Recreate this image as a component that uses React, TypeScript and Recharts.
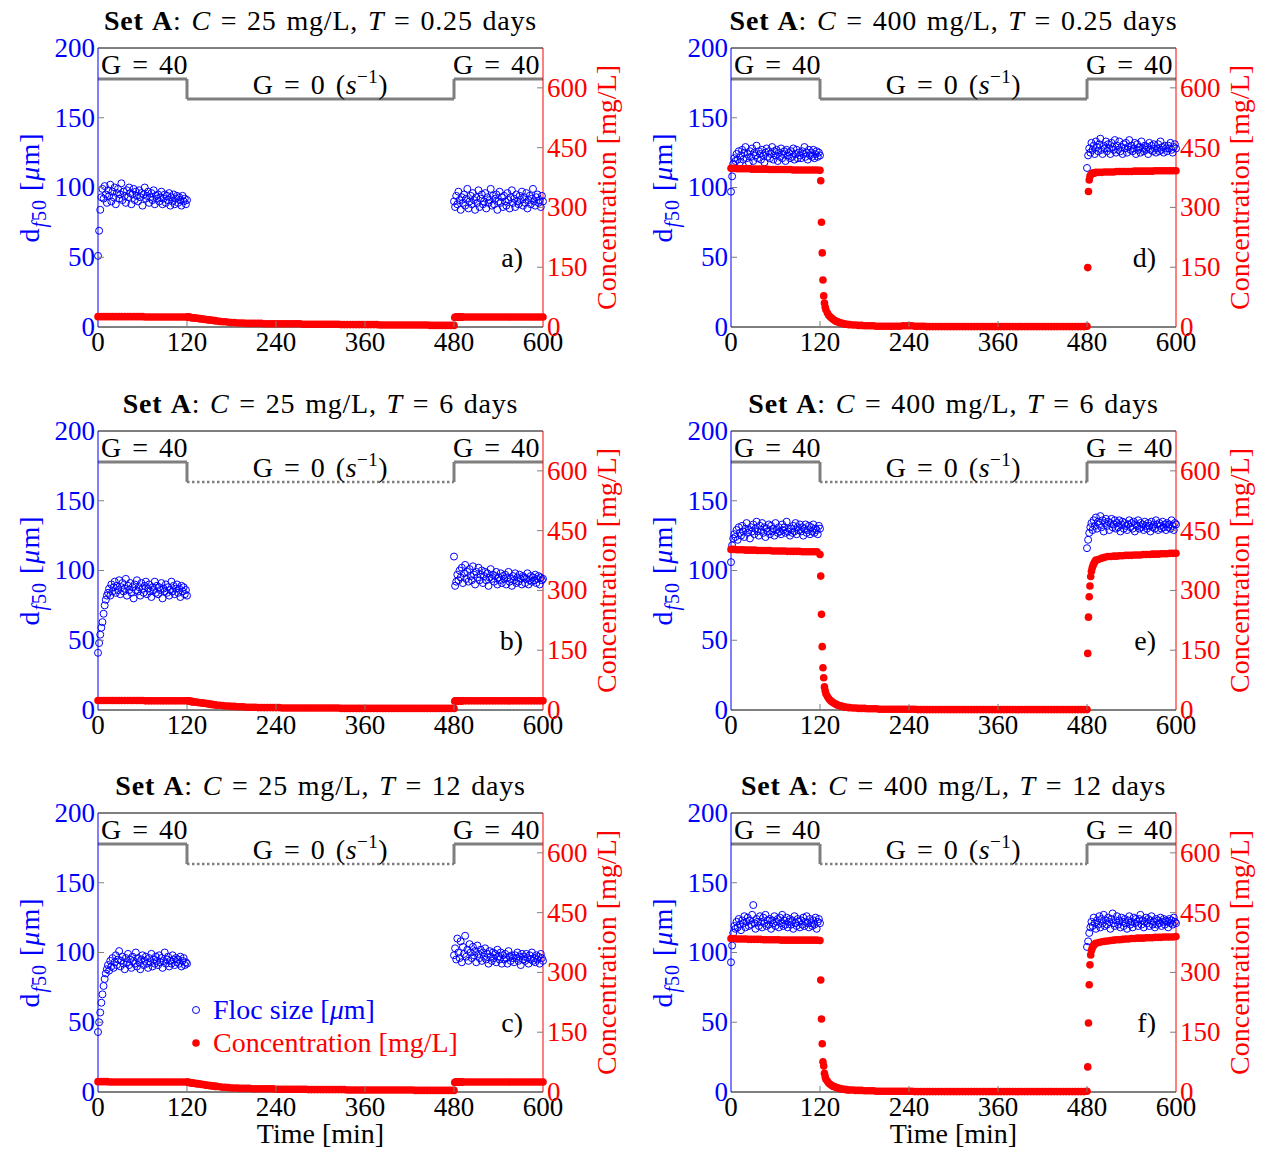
import React from "react";
import { ComposedChart, Scatter, XAxis, YAxis, ReferenceLine } from "recharts";

const FONT = "'Liberation Serif', 'Times New Roman', serif";
const FS = 28;
const FS_TICK = 27;
const BLUE = "#0000ff";
const RED = "#ff0000";
const GRAY = "#7f7f7f";

// axis ticks
const TIME_TICKS = [0, 120, 240, 360, 480, 600];
const SIZE_TICKS = [0, 50, 100, 150, 200];
const CONC_TICKS = [0, 150, 300, 450, 600];

// test conditions: columns = concentration, rows = aging time
const SET_CONC = [25, 400];
const SET_DAYS = ["0.25", "6", "12"];
const LETTERS = [["a", "b", "c"], ["d", "e", "f"]];

// shear schedule, G in s^-1
const G_PHASES = [
  { from: 0, to: 120, g: 40 },
  { from: 120, to: 480, g: 0 },
  { from: 480, to: 600, g: 40 },
];

const seq = (a: number, b: number, step: number) => {
  const out: number[] = [];
  for (let t = a; t <= b + 1e-9; t += step) out.push(t);
  return out;
};

// sampling times (min)
const FLOC_T1 = seq(0, 120, 1.5);
const FLOC_T2 = seq(480, 600, 1.5);
const CONC_T = [
  ...seq(0, 120, 4),
  ...seq(121, 128, 1),
  ...seq(130, 160, 2),
  ...seq(164, 476, 4),
  480,
  ...seq(481, 492, 1),
  ...seq(496, 600, 4),
];

// floc size d_f50 (um)
const FLOC_A1 = [
  51, 69, 84, 93, 99, 92, 101, 95, 89,
  98, 94, 102, 90, 97, 93, 100, 88, 96,
  99, 92, 95, 103, 91, 97, 94, 89, 98,
  93, 100, 96, 88, 95, 99, 91, 97, 94,
  90, 98, 93, 96, 87, 95, 100, 92, 94,
  97, 89, 93, 96, 91, 98, 88, 94, 92,
  95, 90, 93, 97, 88, 92, 95, 89, 94,
  91, 96, 87, 93, 90, 95, 88, 92, 94,
  89, 93, 91, 87, 94, 90, 92, 88, 91,
];
const FLOC_A2 = [
  90, 86, 94, 88, 97, 91, 84, 93, 89,
  95, 87, 92, 99, 85, 90, 94, 88, 96,
  91, 84, 93, 89, 98, 86, 92, 95, 88,
  90, 96, 85, 93, 89, 91, 99, 87, 94,
  88, 92, 95, 84, 90, 97, 89, 93, 86,
  94, 90, 87, 96, 91, 85, 93, 98, 89,
  92, 86, 95, 90, 88, 94, 91, 97, 87,
  93, 89, 96, 85, 91, 94, 88, 92, 99,
  90, 87, 93, 95, 89, 91, 86, 94, 90,
];
const FLOC_B1 = [
  41, 48, 54, 59, 63, 69, 75, 79, 82,
  84, 87, 82, 90, 85, 88, 92, 84, 89,
  86, 93, 83, 88, 91, 85, 87, 94, 82,
  89, 86, 91, 84, 88, 80, 90, 86, 93,
  85, 88, 82, 91, 87, 84, 89, 92, 83,
  87, 90, 85, 81, 88, 86, 92, 84, 89,
  83, 88, 86, 91, 80, 87, 85, 90, 84,
  88, 82, 86, 92, 85, 89, 83, 87, 90,
  84, 87, 81, 89, 85, 88, 83, 86, 82,
];
const FLOC_B2 = [
  110, 89, 92, 97, 93, 100, 95, 102, 91,
  98, 104, 94, 99, 92, 101, 96, 93, 103,
  97, 90, 99, 95, 102, 93, 97, 100, 91,
  96, 99, 93, 98, 89, 95, 101, 94, 97,
  92, 96, 99, 90, 95, 93, 98, 91, 96,
  94, 97, 90, 95, 99, 92, 94, 89, 96,
  93, 98, 91, 95, 92, 97, 94, 90, 96,
  95, 91, 94, 98, 90, 93, 96, 92, 95,
  93, 97, 91, 94, 96, 90, 95, 93, 94,
];
const FLOC_C1 = [
  43, 50, 57, 64, 70, 76, 81, 85, 88,
  91, 87, 94, 90, 96, 89, 93, 98, 91,
  95, 101, 90, 94, 97, 92, 88, 96, 93,
  99, 91, 95, 89, 97, 94, 92, 100, 90,
  96, 93, 88, 95, 98, 91, 94, 97, 92,
  89, 96, 93, 99, 90, 95, 92, 97, 94,
  91, 98, 93, 96, 89, 94, 100, 92, 95,
  97, 90, 94, 92, 98, 95, 91, 96, 93,
  95, 92, 97, 90, 94, 96, 91, 93, 92,
];
const FLOC_C2 = [
  98, 103, 95, 110, 100, 96, 108, 93, 104,
  99, 112, 97, 102, 94, 106, 100, 96, 104,
  98, 101, 93, 105, 99, 96, 102, 94, 100,
  97, 103, 95, 99, 92, 101, 97, 94, 100,
  96, 99, 93, 102, 97, 95, 100, 92, 98,
  95, 99, 96, 92, 101, 97, 94, 98, 96,
  93, 98, 96, 100, 94, 97, 91, 99, 95,
  97, 94, 99, 96, 92, 98, 95, 100, 94,
  96, 93, 98, 95, 97, 92, 99, 96, 94,
];
const FLOC_D1 = [
  97, 108, 117, 121, 119, 124, 120, 126, 118,
  123, 127, 120, 125, 129, 121, 124, 118, 126,
  122, 128, 119, 125, 123, 130, 121, 126, 124,
  120, 127, 123, 118, 125, 128, 122, 126, 121,
  124, 129, 120, 126, 123, 127, 119, 125, 122,
  128, 121, 124, 126, 119, 127, 123, 125, 121,
  126, 122, 128, 120, 124, 127, 121, 125, 123,
  121, 126, 124, 129, 122, 125, 120, 127, 123,
  125, 122, 127, 121, 124, 126, 122, 125, 123,
];
const FLOC_D2 = [
  114, 123, 128, 125, 132, 127, 130, 124, 133,
  129, 126, 131, 135, 127, 124, 130, 128, 133,
  126, 131, 128, 124, 132, 129, 127, 134, 125,
  130, 127, 133, 126, 129, 124, 131, 128, 132,
  125, 129, 134, 127, 130, 126, 128, 132, 124,
  131, 127, 129, 125, 133, 128, 126, 130, 127,
  129, 124, 132, 127, 130, 126, 131, 128, 125,
  128, 131, 126, 133, 127, 129, 125, 130, 128,
  126, 130, 128, 132, 127, 125, 129, 131, 128,
];
const FLOC_E1 = [
  106, 118, 123, 126, 124, 129, 122, 131, 127,
  125, 132, 128, 124, 130, 134, 127, 129, 123,
  131, 128, 133, 126, 130, 135, 128, 125, 132,
  129, 134, 127, 131, 124, 130, 128, 133, 126,
  132, 128, 130, 125, 134, 129, 127, 131, 128,
  126, 133, 129, 131, 127, 135, 128, 130, 125,
  130, 127, 132, 128, 134, 126, 131, 129, 133,
  128, 131, 125, 130, 133, 127, 129, 132, 126,
  131, 128, 133, 127, 130, 129, 126, 132, 130,
];
const FLOC_E2 = [
  116, 122, 127, 131, 134, 129, 136, 132, 138,
  130, 135, 133, 139, 131, 136, 128, 134, 137,
  132, 135, 129, 134, 137, 131, 133, 136, 130,
  134, 131, 136, 128, 133, 135, 130, 134, 132,
  129, 133, 136, 131, 134, 130, 135, 128, 133,
  132, 136, 130, 134, 131, 133, 129, 135, 132,
  130, 134, 132, 128, 135, 131, 133, 130, 136,
  133, 129, 134, 132, 130, 135, 131, 133, 129,
  134, 131, 133, 130, 136, 132, 129, 134, 133,
];
const FLOC_F1 = [
  93, 105, 114, 119, 117, 122, 118, 124, 120,
  116, 123, 121, 126, 118, 122, 125, 119, 123,
  120, 127, 134, 121, 117, 124, 122, 119, 126,
  122, 118, 125, 121, 127, 119, 123, 120, 124,
  117, 123, 121, 126, 119, 122, 124, 118, 125,
  121, 127, 119, 123, 120, 125, 118, 122, 124,
  120, 123, 117, 126, 121, 119, 124, 122, 118,
  123, 120, 125, 119, 122, 126, 121, 118, 124,
  121, 119, 123, 120, 125, 117, 122, 124, 121,
];
const FLOC_F2 = [
  104, 108, 114, 118, 122, 119, 125, 121, 117,
  123, 120, 126, 118, 124, 121, 127, 119, 123,
  120, 125, 122, 117, 124, 128, 121, 119, 123,
  126, 120, 123, 118, 125, 122, 119, 124, 121,
  117, 123, 126, 120, 122, 118, 125, 121, 124,
  122, 119, 124, 127, 120, 123, 118, 122, 125,
  121, 124, 119, 123, 126, 120, 122, 118, 124,
  120, 123, 121, 125, 119, 122, 124, 120, 123,
  122, 118, 124, 121, 123, 120, 125, 122, 121,
];

// concentration (mg/L) on CONC_T
const CONC_A = [
  26, 26, 26, 26, 26, 26, 26, 26, 26, 26, 26, 26, 26, 26, 26, 26, 25, 25, 25, 25, 25, 25, 25, 25, 25, 25, 25, 25, 25, 25, 25,
  25, 25, 25, 24, 24, 24, 23, 23,
  23, 22, 22, 21, 21, 20, 20, 19, 19, 18, 18, 17, 17, 16, 16, 15,
  14, 13, 13, 12, 11, 11, 10, 10, 10, 9,
  9, 9, 9, 9, 9, 8, 8, 8, 8, 8,
  8, 8, 8, 8, 8, 8, 8, 8, 7, 7,
  7, 7, 7, 7, 7, 7, 7, 7, 7, 7,
  7, 6, 6, 6, 6, 6, 6, 6, 6, 6,
  6, 6, 6, 6, 5, 5, 5, 5, 5, 5,
  5, 5, 5, 5, 5, 5, 5, 5, 5, 5,
  5, 4, 4, 4, 4, 4, 4, 4, 4,
  4,
  24, 25, 25, 25, 25, 25, 25, 25, 25, 25, 25, 25,
  25, 25, 25, 25, 25, 25, 25, 25, 25, 25, 25, 25, 25, 25, 25, 25, 25, 25, 25, 25, 25, 25, 25, 25, 25, 25, 25,
];
const CONC_B = [
  24, 24, 24, 24, 24, 24, 24, 24, 24, 24, 24, 24, 24, 24, 24, 24, 23, 23, 23, 23, 23, 23, 23, 23, 23, 23, 23, 23, 23, 23, 23,
  23, 23, 22, 22, 22, 21, 21, 21,
  20, 20, 19, 19, 18, 18, 17, 17, 16, 16, 15, 14, 14, 13, 13, 12,
  12, 11, 10, 10, 9, 9, 8, 8, 8, 7,
  7, 7, 7, 6, 6, 6, 6, 6, 6, 6,
  6, 5, 5, 5, 5, 5, 5, 5, 5, 5,
  5, 5, 5, 5, 5, 5, 5, 5, 5, 5,
  5, 4, 4, 4, 4, 4, 4, 4, 4, 4,
  4, 4, 4, 4, 4, 4, 4, 4, 4, 4,
  4, 4, 4, 4, 4, 4, 4, 4, 4, 4,
  4, 4, 4, 4, 4, 4, 4, 4, 4,
  4,
  22, 23, 23, 23, 23, 23, 23, 23, 23, 23, 23, 23,
  23, 23, 23, 23, 23, 23, 23, 23, 23, 23, 23, 23, 23, 23, 23, 23, 23, 23, 23, 23, 23, 23, 23, 23, 23, 23, 23,
];
const CONC_C = [
  26, 26, 26, 26, 25, 25, 25, 25, 25, 25, 25, 25, 25, 25, 25, 25, 25, 25, 25, 25, 25, 25, 25, 25, 25, 25, 25, 25, 25, 25, 25,
  25, 24, 24, 24, 23, 23, 23, 22,
  22, 21, 21, 20, 20, 19, 19, 18, 17, 17, 16, 16, 15, 15, 14, 14,
  13, 12, 12, 11, 10, 10, 10, 9, 9, 9,
  9, 8, 8, 8, 8, 8, 8, 8, 8, 7,
  7, 7, 7, 7, 7, 7, 7, 7, 7, 7,
  6, 6, 6, 6, 6, 6, 6, 6, 6, 6,
  6, 6, 6, 5, 5, 5, 5, 5, 5, 5,
  5, 5, 5, 5, 5, 5, 5, 5, 5, 5,
  5, 5, 5, 5, 5, 5, 4, 4, 4, 4,
  4, 4, 4, 4, 4, 4, 4, 4, 4,
  4,
  24, 25, 25, 25, 25, 25, 25, 25, 25, 25, 25, 25,
  25, 25, 25, 25, 25, 25, 25, 25, 25, 25, 25, 25, 25, 25, 25, 25, 25, 25, 25, 25, 25, 25, 25, 25, 25, 25, 25,
];
const CONC_D = [
  398, 398, 397, 397, 397, 397, 397, 396, 396, 396, 396, 396, 396, 395, 395, 395, 395, 395, 395, 395, 395, 394, 394, 394, 394, 394, 394, 394, 394, 394, 393,
  367, 263, 186, 118, 78, 60, 50, 43,
  35, 29, 25, 22, 19, 16, 14, 13, 11, 10, 9, 8, 7, 7, 6, 6,
  5, 5, 4, 4, 3, 3, 3, 3, 2, 2,
  2, 2, 2, 2, 2, 2, 2, 3, 3, 3,
  3, 2, 2, 2, 2, 1, 1, 1, 1, 1,
  1, 1, 1, 1, 1, 1, 1, 1, 1, 1,
  1, 1, 1, 1, 1, 1, 1, 1, 1, 1,
  1, 1, 1, 1, 1, 1, 1, 1, 1, 1,
  1, 1, 1, 1, 1, 1, 1, 1, 1, 1,
  1, 1, 1, 1, 1, 1, 1, 1, 1,
  2,
  149, 340, 369, 378, 382, 384, 385, 386, 386, 387, 387, 388,
  388, 388, 389, 389, 389, 389, 390, 390, 390, 390, 390, 390, 391, 391, 391, 391, 391, 391, 391, 392, 392, 392, 392, 392, 392, 392, 392,
];
const CONC_E = [
  403, 403, 402, 402, 402, 401, 401, 401, 401, 400, 400, 400, 400, 400, 399, 399, 399, 399, 399, 398, 398, 398, 398, 398, 397, 397, 397, 397, 397, 397, 390,
  336, 240, 159, 106, 81, 58, 48, 41,
  34, 28, 24, 21, 18, 16, 14, 12, 11, 10, 9, 8, 7, 7, 6, 6,
  5, 5, 4, 4, 4, 3, 3, 3, 3, 2,
  2, 2, 2, 2, 2, 2, 2, 2, 2, 2,
  2, 2, 1, 1, 1, 1, 1, 1, 1, 1,
  1, 1, 1, 1, 1, 1, 1, 1, 1, 1,
  1, 1, 1, 1, 1, 1, 1, 1, 1, 1,
  1, 1, 1, 1, 1, 1, 1, 1, 1, 1,
  1, 1, 1, 1, 1, 1, 1, 1, 1, 1,
  1, 1, 1, 1, 1, 1, 1, 1, 1,
  1,
  142, 233, 284, 311, 335, 348, 356, 362, 366, 370, 373, 376,
  378, 381, 383, 385, 385, 386, 386, 387, 387, 388, 388, 388, 389, 389, 389, 390, 390, 390, 391, 391, 391, 392, 392, 392, 393, 393, 393,
];
const CONC_F = [
  385, 385, 384, 384, 384, 384, 383, 383, 383, 383, 383, 382, 382, 382, 382, 382, 382, 381, 381, 381, 381, 381, 381, 381, 381, 381, 381, 381, 381, 381, 380,
  281, 183, 121, 76, 65, 47, 38, 32,
  27, 22, 19, 16, 14, 13, 11, 10, 9, 8, 7, 7, 6, 6, 5, 5,
  5, 4, 4, 4, 3, 3, 3, 3, 2, 2,
  2, 2, 2, 2, 2, 2, 2, 2, 2, 2,
  2, 1, 1, 1, 1, 1, 1, 1, 1, 1,
  1, 1, 1, 1, 1, 1, 1, 1, 1, 1,
  1, 1, 1, 1, 1, 1, 1, 1, 1, 1,
  1, 1, 1, 1, 1, 1, 1, 1, 1, 1,
  1, 1, 1, 1, 1, 1, 1, 1, 1, 1,
  1, 1, 1, 1, 1, 1, 1, 1, 1,
  2,
  63, 173, 269, 319, 344, 355, 361, 365, 368, 370, 372, 373,
  375, 377, 378, 379, 380, 381, 382, 382, 383, 384, 384, 385, 385, 386, 386, 386, 387, 387, 387, 388, 388, 388, 389, 389, 389, 389, 390,
];

const PANELS = [
  { col: 0, row: 0, floc1: FLOC_A1, floc2: FLOC_A2, conc: CONC_A },
  { col: 0, row: 1, floc1: FLOC_B1, floc2: FLOC_B2, conc: CONC_B },
  { col: 0, row: 2, floc1: FLOC_C1, floc2: FLOC_C2, conc: CONC_C },
  { col: 1, row: 0, floc1: FLOC_D1, floc2: FLOC_D2, conc: CONC_D },
  { col: 1, row: 1, floc1: FLOC_E1, floc2: FLOC_E2, conc: CONC_E },
  { col: 1, row: 2, floc1: FLOC_F1, floc2: FLOC_F2, conc: CONC_F },
];

// layout (page px)
const PLOT_LEFT = [98, 731];
const PLOT_TOP = [48, 431, 813];
const PLOT_W = 445;
const PLOT_H = 279;
const AXIS_L = 90;
const AXIS_R = 85;
const MARGIN_TOP = 40;
const CHART_W = AXIS_L + PLOT_W + AXIS_R;
const CHART_H = MARGIN_TOP + PLOT_H + 40;
const G_HIGH = 177.8; // drawn level of the schedule line (left axis units)
const G_LOW = 163.4;

const toPts = (ts: number[], vs: number[]) => vs.map((v, i) => ({ t: ts[i], v }));

const txt = { fontFamily: FONT, fontSize: FS };
const tickTxt = { fontFamily: FONT, fontSize: FS_TICK };

const TimeTick = (props: any) => {
  const { x, y, payload } = props;
  const v = payload.value;
  return (
    <g>
      {v > 0 && v < 600 && <line x1={x} x2={x} y1={y} y2={y - 6} stroke={GRAY} />}
      <text x={x} y={y + 24} textAnchor="middle" fill="#000" {...tickTxt}>{v}</text>
    </g>
  );
};

const TopTick = (props: any) => {
  const { x, y, payload } = props;
  const v = payload.value;
  if (!(v > 0 && v < 600)) return <g />;
  return <line x1={x} x2={x} y1={y} y2={y + 6} stroke={GRAY} />;
};

const SizeTick = (props: any) => {
  const { x, y, payload } = props;
  const v = payload.value;
  return (
    <g>
      {v > 0 && v < 200 && <line x1={x} x2={x + 6} y1={y} y2={y} stroke={GRAY} />}
      <text x={x - 3} y={y} dy="0.33em" textAnchor="end" fill={BLUE} {...tickTxt}>{v}</text>
    </g>
  );
};

const ConcTick = (props: any) => {
  const { x, y, payload } = props;
  const v = payload.value;
  return (
    <g>
      {v > 0 && <line x1={x} x2={x - 6} y1={y} y2={y} stroke={GRAY} />}
      <text x={x + 4} y={y} dy="0.33em" textAnchor="start" fill={RED} {...tickTxt}>{v}</text>
    </g>
  );
};

const GLabel = (props: any) => {
  const { viewBox, anchor, dx = 0, children } = props;
  if (!viewBox) return null;
  const x = anchor === "middle" ? viewBox.x + viewBox.width / 2 : viewBox.x + dx;
  return (
    <text x={x} y={viewBox.y - 5} textAnchor={anchor} fill="#000" wordSpacing={3} letterSpacing={0.5} {...txt}>
      {children}
    </text>
  );
};

const openCircle = (p: any) => (
  <circle cx={p.cx} cy={p.cy} r={3.5} fill="none" stroke={BLUE} strokeWidth={1} />
);
const filledDot = (p: any) => <circle cx={p.cx} cy={p.cy} r={3.8} fill={RED} />;

function Panel({ p }: { p: (typeof PANELS)[number] }) {
  const flocData = [...toPts(FLOC_T1, p.floc1), ...toPts(FLOC_T2, p.floc2)];
  const concData = toPts(CONC_T, p.conc);
  const dotted = p.row > 0;
  const level = (g: number) => (g > 0 ? G_HIGH : G_LOW);
  return (
    <div
      style={{
        position: "absolute",
        left: PLOT_LEFT[p.col] - AXIS_L - 8,
        top: PLOT_TOP[p.row] - MARGIN_TOP - 8,
      }}
    >
      <ComposedChart width={CHART_W} height={CHART_H} margin={{ top: MARGIN_TOP, right: 0, bottom: 0, left: 0 }}>
        <XAxis
          xAxisId="t"
          dataKey="t"
          type="number"
          domain={[0, 600]}
          ticks={TIME_TICKS}
          interval={0}
          height={40}
          tickSize={0}
          tickMargin={0}
          tickLine={false}
          axisLine={{ stroke: "#000" }}
          tick={(tp: any) => <TimeTick {...tp} />}
        />
        <XAxis
          xAxisId="top"
          dataKey="t"
          orientation="top"
          mirror
          type="number"
          domain={[0, 600]}
          ticks={TIME_TICKS}
          interval={0}
          tickSize={0}
          tickMargin={0}
          tickLine={false}
          axisLine={{ stroke: "#000" }}
          tick={(tp: any) => <TopTick {...tp} />}
        />
        <YAxis
          yAxisId="d"
          orientation="left"
          type="number"
          width={AXIS_L}
          domain={[0, 200]}
          ticks={SIZE_TICKS}
          interval={0}
          tickSize={0}
          tickMargin={0}
          tickLine={false}
          axisLine={{ stroke: BLUE }}
          tick={(tp: any) => <SizeTick {...tp} />}
        />
        <YAxis
          yAxisId="c"
          orientation="right"
          type="number"
          width={AXIS_R}
          domain={[0, 700]}
          ticks={CONC_TICKS}
          interval={0}
          tickSize={0}
          tickMargin={0}
          tickLine={false}
          axisLine={{ stroke: RED }}
          tick={(tp: any) => <ConcTick {...tp} />}
        />
        {G_PHASES.map((ph, i) => {
          const y = level(ph.g);
          const dash = ph.g === 0 && dotted;
          const label =
            ph.g > 0 ? (
              <GLabel anchor="start" dx={i === 0 ? 3 : -1}>G = {ph.g}</GLabel>
            ) : (
              <GLabel anchor="middle">
                G = {ph.g} (<tspan fontStyle="italic">s</tspan>
                <tspan dy={-11} fontSize={19}>−1</tspan>
                <tspan dy={11}>)</tspan>
              </GLabel>
            );
          return (
            <ReferenceLine
              key={"h" + i}
              xAxisId="t"
              yAxisId="d"
              segment={[{ x: ph.from, y }, { x: ph.to, y }]}
              stroke={GRAY}
              strokeWidth={dash ? 2.5 : 3}
              strokeDasharray={dash ? "2.5 2.5" : undefined}
              ifOverflow="visible"
              label={label}
            />
          );
        })}
        {G_PHASES.slice(1).map((ph, i) => (
          <ReferenceLine
            key={"v" + i}
            xAxisId="t"
            yAxisId="d"
            segment={[{ x: ph.from, y: level(G_PHASES[i].g) }, { x: ph.from, y: level(ph.g) }]}
            stroke={GRAY}
            strokeWidth={3}
            ifOverflow="visible"
          />
        ))}
        <Scatter
          name="Floc size"
          xAxisId="t"
          yAxisId="d"
          data={flocData}
          dataKey="v"
          shape={openCircle}
          isAnimationActive={false}
        />
        <Scatter
          name="Concentration"
          xAxisId="t"
          yAxisId="c"
          data={concData}
          dataKey="v"
          shape={filledDot}
          isAnimationActive={false}
        />
      </ComposedChart>
    </div>
  );
}

function Overlay() {
  const items: React.ReactNode[] = [];
  PANELS.forEach((p, k) => {
    const left = PLOT_LEFT[p.col];
    const top = PLOT_TOP[p.row];
    const cx = left + PLOT_W / 2;
    const cy = top + PLOT_H / 2;
    items.push(
      <text key={"title" + k} x={cx} y={top - 18} textAnchor="middle" fill="#000" letterSpacing={0.8} wordSpacing={2} {...txt}>
        <tspan fontWeight="bold">Set A</tspan>
        {": "}
        <tspan fontStyle="italic">C</tspan>
        {" = " + SET_CONC[p.col] + " mg/L, "}
        <tspan fontStyle="italic">T</tspan>
        {" = " + SET_DAYS[p.row] + " days"}
      </text>,
      <text key={"yl" + k} transform={`translate(${left - 68},${cy}) rotate(-90)`} textAnchor="middle" dy="0.33em" fill={BLUE} letterSpacing={1} {...txt}>
        d
        <tspan dy={7} fontSize={20}>
          <tspan fontStyle="italic">f</tspan>50
        </tspan>
        <tspan dy={-7}> [</tspan>
        <tspan fontStyle="italic">μ</tspan>m]
      </text>,
      <text key={"yr" + k} transform={`translate(${left + PLOT_W + 64},${cy}) rotate(-90)`} textAnchor="middle" dy="0.33em" fill={RED} {...txt}>
        Concentration [mg/L]
      </text>,
      <text key={"let" + k} x={left + PLOT_W - 20} y={top + 219} textAnchor="end" fill="#000" {...txt}>
        {LETTERS[p.col][p.row] + ")"}
      </text>
    );
    if (p.row === 2) {
      items.push(
        <text key={"xl" + k} x={cx} y={top + PLOT_H + 51} textAnchor="middle" fill="#000" {...txt}>
          Time [min]
        </text>
      );
    }
  });
  // legend in panel c
  items.push(
    <g key="legend">
      <circle cx={196} cy={1010} r={3.5} fill="none" stroke={BLUE} />
      <text x={213} y={1019} fill={BLUE} {...txt}>
        Floc size [<tspan fontStyle="italic">μ</tspan>m]
      </text>
      <circle cx={196} cy={1043} r={3.8} fill={RED} />
      <text x={213} y={1052} fill={RED} {...txt}>
        Concentration [mg/L]
      </text>
    </g>
  );
  return (
    <svg
      width={1267}
      height={1153}
      style={{ position: "absolute", left: -8, top: -8, pointerEvents: "none", overflow: "visible" }}
    >
      {items}
    </svg>
  );
}

export default function App() {
  return (
    <div style={{ position: "relative", width: 1251, height: 1145, background: "#fff" }}>
      {PANELS.map((p, k) => (
        <Panel key={k} p={p} />
      ))}
      <Overlay />
    </div>
  );
}
